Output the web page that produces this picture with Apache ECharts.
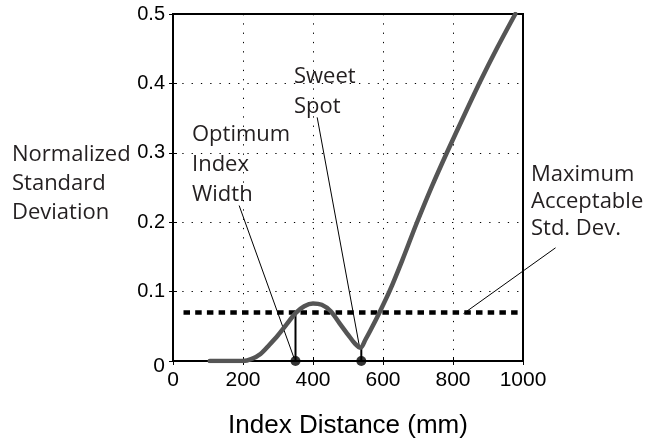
<!DOCTYPE html>
<html>
<head>
<meta charset="utf-8">
<script src="https://cdn.jsdelivr.net/npm/echarts@6/dist/echarts.min.js"></script>
<style>html,body{margin:0;padding:0;background:#fff;}#c{width:649px;height:444px;}</style>
</head>
<body>
<div id="c"></div>
<script>
// ---- data ----
var curveX = [105, 150, 200, 225, 250, 275, 300, 325, 350, 375, 400, 425, 450, 475, 500, 520, 536, 550, 565, 590, 620, 655, 695, 740, 785, 830, 877, 927, 978];
var curveY = [0, 0, 0, 0.003, 0.01, 0.023, 0.037, 0.053, 0.069, 0.079, 0.083, 0.081, 0.072, 0.055, 0.038, 0.025, 0.019, 0.031, 0.045, 0.07, 0.102, 0.145, 0.197, 0.252, 0.303, 0.352, 0.402, 0.452, 0.5];
var maxStd = 0.07;
var maxStdRange = [30, 985];
var optimumX = 350;
var sweetX = 538;
var sweetY = 0.02;
var xTicks = [0, 200, 400, 600, 800, 1000];
var yTicks = [0, 0.1, 0.2, 0.3, 0.4, 0.5];
// annotation leader lines (data coords)
var optimumLeader = [[189, 0.224], [346, 0.004]];
var sweetLeader = [[412, 0.351], [533, 0.02]];
var maxLeader = [[1093, 0.166], [830, 0.072]];

var chart = echarts.init(document.getElementById('c'), null, {renderer: 'canvas'});
var txtColor = '#231f20';
var sansFont = '"Liberation Sans", Arial, sans-serif';

function pairs(xs, ys) { return xs.map(function (x, i) { return [x, ys[i]]; }); }

function leader(d, gi) {
  return {type: 'line', data: d, symbol: 'none', clip: false, silent: true,
    lineStyle: {color: '#000', width: 1}, z: 4, xAxisIndex: gi ? 2 : 0, yAxisIndex: gi ? 2 : 0};
}

var option = {
  animation: false,
  backgroundColor: '#fff',
  grid: [
    {left: 173, right: 126, top: 14, bottom: 80, show: true, borderColor: '#000', borderWidth: 2, backgroundColor: 'transparent'},
    {left: 173, right: 91, top: 14, bottom: 80, show: false}
  ],
  xAxis: [{
    type: 'value', min: xTicks[0], max: xTicks[xTicks.length - 1], interval: 200, position: 'bottom', gridIndex: 0,
    axisLine: {show: true, lineStyle: {color: '#000', width: 1.5}},
    axisTick: {show: true, inside: true, length: 4, lineStyle: {color: '#000'}},
    axisLabel: {color: '#000', fontFamily: sansFont, fontSize: 21, margin: 9, formatter: function (v) { return String(v); }},
    splitLine: {show: true, lineStyle: {color: '#000', width: 1, type: [1.3, 8]}},
    name: 'Index Distance (mm)', nameLocation: 'middle', nameGap: 52,
    nameTextStyle: {color: '#000', fontFamily: sansFont, fontSize: 26}
  }, {
    type: 'value', min: 0, max: 1000, interval: 200, position: 'top', gridIndex: 0,
    axisLine: {show: true, lineStyle: {color: '#000', width: 1.5}},
    axisTick: {show: true, inside: true, length: 4, lineStyle: {color: '#000'}},
    axisLabel: {show: false}, splitLine: {show: false}
  }, {
    type: 'value', min: 0, max: 1100, gridIndex: 1, show: false
  }],
  yAxis: [{
    type: 'value', min: yTicks[0], max: yTicks[yTicks.length - 1], interval: 0.1, position: 'left', gridIndex: 0,
    axisLine: {show: true, lineStyle: {color: '#000', width: 1.5}},
    axisTick: {show: true, inside: true, length: 4, lineStyle: {color: '#000'}},
    axisLabel: {
      color: '#000', fontFamily: sansFont, fontSize: 20, margin: 8,
      formatter: function (v) { return v === 0 ? '{z|0}' : '{n|' + v.toFixed(1) + '}'; },
      rich: {
        n: {fontFamily: sansFont, fontSize: 20, color: '#000'},
        z: {fontFamily: sansFont, fontSize: 21, color: '#000', padding: [10, 0, 0, 0]}
      }
    },
    splitLine: {show: true, lineStyle: {color: '#000', width: 1, type: [1.3, 8]}}
  }, {
    type: 'value', min: 0, max: 0.5, interval: 0.1, position: 'right', gridIndex: 0,
    axisLine: {show: true, lineStyle: {color: '#000', width: 2}},
    axisTick: {show: true, inside: true, length: 4, lineStyle: {color: '#000'}},
    axisLabel: {show: false}, splitLine: {show: false}
  }, {
    type: 'value', min: 0, max: 0.5, gridIndex: 1, show: false
  }],
  series: [
    {
      type: 'line', data: [[maxStdRange[0], maxStd], [maxStdRange[1], maxStd]], symbol: 'none', silent: true,
      lineStyle: {color: '#000', width: 4.5, type: [6.5, 5.2]}, z: 3
    },
    {
      type: 'line', data: pairs(curveX, curveY), smooth: 0.3, symbol: 'none', silent: true,
      lineStyle: {color: '#555555', width: 4.5, cap: 'round', join: 'round'}, z: 5
    },
    {
      type: 'line', data: [[optimumX, 0], [optimumX, maxStd]], symbol: 'none', silent: true,
      lineStyle: {color: '#000', width: 2}, z: 4
    },
    {
      type: 'line', data: [[sweetX, 0], [sweetX, sweetY]], symbol: 'none', silent: true,
      lineStyle: {color: '#000', width: 2}, z: 4
    },
    leader(optimumLeader, 0),
    leader(sweetLeader, 0),
    leader(maxLeader, 1),
    {
      type: 'scatter', data: [[optimumX, 0], [sweetX, 0]], symbol: 'circle', symbolSize: 10, clip: false, silent: true,
      itemStyle: {color: '#000'}, z: 6
    }
  ],
  graphic: [
    {type: 'text', left: 12, top: 140, silent: true,
      style: {text: 'Normalized\nStandard\nDeviation', fill: txtColor, font: '22px "Open Sans", sans-serif', lineHeight: 29}},
    {type: 'text', left: 192, top: 120, silent: true,
      style: {text: 'Optimum\nIndex\nWidth', fill: txtColor, font: '22px "Open Sans", sans-serif', lineHeight: 29.7}},
    {type: 'text', left: 294, top: 62, silent: true,
      style: {text: 'Sweet\nSpot', fill: txtColor, font: '22px "Open Sans", sans-serif', lineHeight: 30}},
    {type: 'text', left: 531, top: 161, silent: true,
      style: {text: 'Maximum\nAcceptable\nStd. Dev.', fill: txtColor, font: '22px "Open Sans", sans-serif', lineHeight: 27}}
  ]
};
chart.setOption(option);
</script>
</body>
</html>
